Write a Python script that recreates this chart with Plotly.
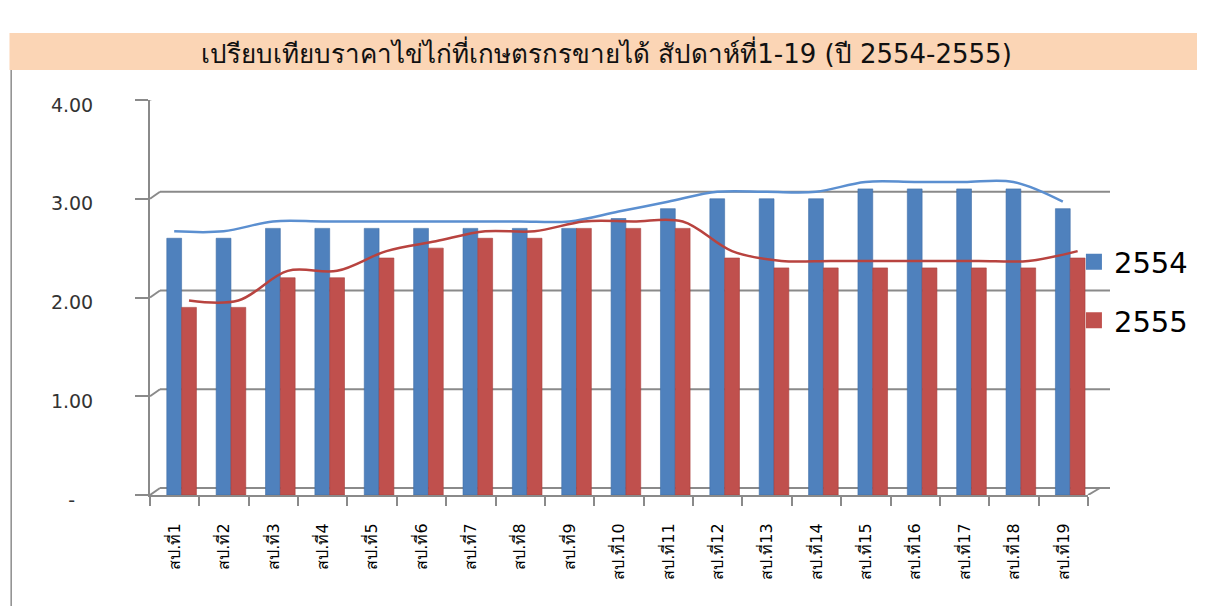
import plotly.graph_objects as go

# ---- data ----
categories = ["สป.ที่%d" % i for i in range(1, 20)]
series_names = ["2554", "2555"]
values_2554 = [2.6, 2.6, 2.7, 2.7, 2.7, 2.7, 2.7, 2.7, 2.7, 2.8, 2.9, 3.0, 3.0, 3.0, 3.1, 3.1, 3.1, 3.1, 2.9]
values_2555 = [1.9, 1.9, 2.2, 2.2, 2.4, 2.5, 2.6, 2.6, 2.7, 2.7, 2.7, 2.4, 2.3, 2.3, 2.3, 2.3, 2.3, 2.3, 2.4]
y_tick_values = [0, 1, 2, 3, 4]
y_tick_labels = ["-\u00a0\u00a0\u00a0", "1.00", "2.00", "3.00", "4.00"]
title_text = "เปรียบเทียบราคาไข่ไก่ที่เกษตรกรขายได้ สัปดาห์ที่1-19 (ปี 2554-2555)"

# ---- style ----
BAR_BLUE = "#4F81BD"
BAR_RED = "#C0504D"
LINE_BLUE = "#5B8FD0"
LINE_RED = "#B8433F"
GRID = "#8A8A8A"
BAR_W = 0.30
OFF_BLUE = -0.16
OFF_RED = 0.14
FONT = "Tahoma, 'DejaVu Sans', sans-serif"

idx = list(range(len(categories)))

fig = go.Figure()
fig.add_trace(go.Bar(x=idx, y=values_2554, width=BAR_W, offset=OFF_BLUE,
                     marker=dict(color=BAR_BLUE, line=dict(color="#3F6FA8", width=0.6)),
                     showlegend=False, hoverinfo="skip"))
fig.add_trace(go.Bar(x=idx, y=values_2555, width=BAR_W, offset=OFF_RED,
                     marker=dict(color=BAR_RED, line=dict(color="#A8403D", width=0.6)),
                     showlegend=False, hoverinfo="skip"))
# smoothed lines (drawn on the 3D back plane -> slightly raised axis)
fig.add_trace(go.Scatter(x=[i + OFF_BLUE + BAR_W / 2 for i in idx], y=values_2554,
                         mode="lines", line=dict(color=LINE_BLUE, width=2.5, shape="spline", smoothing=1.0),
                         yaxis="y2", showlegend=False, hoverinfo="skip"))
fig.add_trace(go.Scatter(x=[i + OFF_RED + BAR_W / 2 for i in idx], y=values_2555,
                         mode="lines", line=dict(color=LINE_RED, width=2.5, shape="spline", smoothing=1.0),
                         yaxis="y2", showlegend=False, hoverinfo="skip"))
# legend entries
for name, col in zip(series_names, [BAR_BLUE, BAR_RED]):
    fig.add_trace(go.Scatter(x=[None], y=[None], mode="markers", name=name, legendgroup=name,
                             marker=dict(symbol="square", size=18, color=col)))

shapes = []
# title band
shapes.append(dict(type="rect", xref="paper", yref="paper", x0=-0.1498, x1=1.12, y0=1.076, y1=1.1696,
                   fillcolor="#FBD5B5", line=dict(width=0), layer="below"))
# left border of chart area
shapes.append(dict(type="line", xref="paper", yref="paper", x0=-0.148, x1=-0.148, y0=1.076, y1=-0.3,
                   line=dict(color="#8C8C8C", width=1.5)))
# 3D back-wall gridlines
for v in y_tick_values:
    shapes.append(dict(type="line", xref="paper", xsizemode="pixel", xanchor=0, x0=0, x1=10,
                       yref="y", ysizemode="pixel", yanchor=v, y0=0, y1=7,
                       line=dict(color=GRID, width=2), layer="below"))
    shapes.append(dict(type="line", xref="paper", xsizemode="pixel", xanchor=0, x0=10, x1=960,
                       yref="y", ysizemode="pixel", yanchor=v, y0=7, y1=7,
                       line=dict(color=GRID, width=2), layer="below"))
shapes.append(dict(type="line", xref="paper", xsizemode="pixel", xanchor=1, x0=0, x1=12,
                   yref="y", ysizemode="pixel", yanchor=0, y0=0, y1=7,
                   line=dict(color=GRID, width=2), layer="below"))

# page body has an 8px margin: figure is sized/offset to compensate
fig.update_layout(
    width=1197, height=598,
    margin=dict(l=142, r=107, t=92, b=111),
    paper_bgcolor="white", plot_bgcolor="rgba(0,0,0,0)",
    barmode="overlay",
    font=dict(family=FONT, color="#000000"),
    shapes=shapes,
    showlegend=True,
    legend=dict(x=0.985, xanchor="left", y=0.655, yanchor="top", tracegroupgap=18,
                font=dict(size=29, color="#000000", family=FONT), bgcolor="rgba(0,0,0,0)"),
    annotations=[dict(text=title_text, xref="paper", yref="paper", x=0.487, y=1.1215,
                      showarrow=False, xanchor="center", yanchor="middle",
                      font=dict(size=26, color="#111111", family=FONT))],
    xaxis=dict(range=[-0.5, len(categories) - 0.5], tickvals=idx, ticktext=categories,
               tickangle=-90, ticks="", showgrid=False, zeroline=False,
               showline=True, linecolor=GRID, linewidth=2, ticklabelstandoff=20,
               tickfont=dict(size=16, color="#000000", family=FONT),
               minor=dict(tickvals=[i - 0.5 for i in idx] + [len(categories) - 0.5],
                          ticks="outside", ticklen=9, tickcolor=GRID, tickwidth=2, showgrid=False)),
    yaxis=dict(range=[0, 4], tickvals=y_tick_values, ticktext=y_tick_labels,
               showgrid=False, zeroline=False, showline=True, linecolor=GRID, linewidth=2,
               ticks="outside", ticklen=13, tickcolor=GRID, tickwidth=2, ticklabelstandoff=38,
               ticklabelshift=5,
               tickfont=dict(size=19, color="#333333", family=FONT)),
    yaxis2=dict(range=[-0.07, 3.93], overlaying="y", showgrid=False, zeroline=False,
                showticklabels=False, showline=False, ticks=""),
)

fig.write_html("out.html")
